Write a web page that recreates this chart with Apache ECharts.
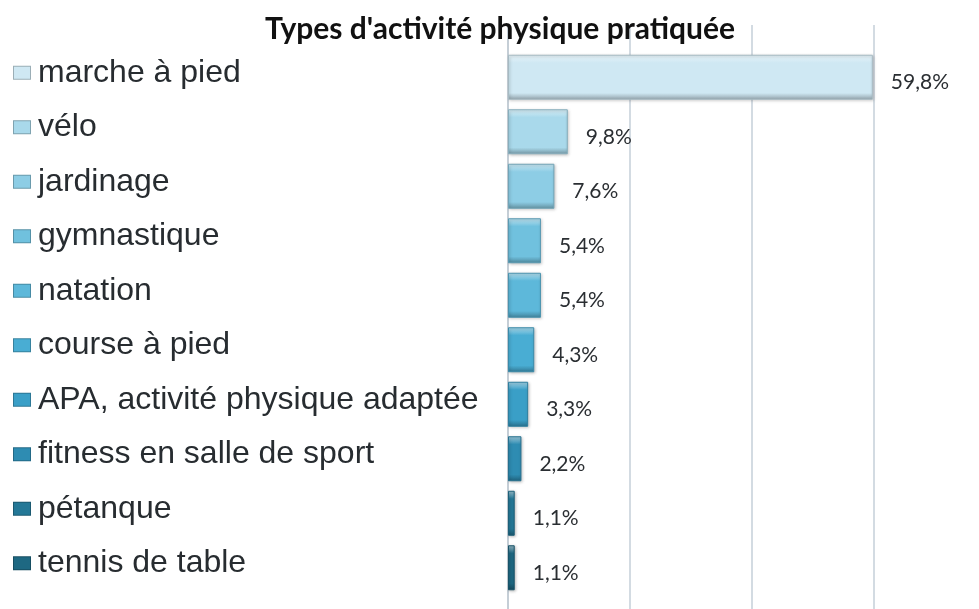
<!DOCTYPE html>
<html lang="fr">
<head>
<meta charset="UTF-8">
<title>Types d'activité physique pratiquée</title>
<script src="https://cdn.jsdelivr.net/npm/echarts@6/dist/echarts.min.js"></script>
<style>
  html, body { margin: 0; padding: 0; background: #fff; }
  #chart { width: 979px; height: 609px; }
</style>
</head>
<body>
<div id="chart"></div>
<script>
// data
const activities = ['marche à pied', 'vélo', 'jardinage', 'gymnastique', 'natation',
  'course à pied', 'APA, activité physique adaptée', 'fitness en salle de sport',
  'pétanque', 'tennis de table'];
const percents = [59.8, 9.8, 7.6, 5.4, 5.4, 4.3, 3.3, 2.2, 1.1, 1.1];
const labels = ['59,8%', '9,8%', '7,6%', '5,4%', '5,4%', '4,3%', '3,3%', '2,2%', '1,1%', '1,1%'];
const barColors = ['#cfe8f3', '#a9d9eb', '#8dcde5', '#70c1de', '#5db8da',
  '#49add3', '#3a9fc7', '#2e8cb2', '#247897', '#1e6882'];
const axisMax = 77.2; // the plot is cut at the right edge of the picture

let chart = echarts.init(document.getElementById('chart'));

function shade(hex, amt) {
  let n = parseInt(hex.slice(1), 16);
  let r = (n >> 16) & 255, g = (n >> 8) & 255, b = n & 255;
  let f = c => Math.max(0, Math.min(255, Math.round(amt > 0 ? c + (255 - c) * amt : c * (1 + amt))));
  return 'rgb(' + f(r) + ',' + f(g) + ',' + f(b) + ')';
}

let rich = { t: { fontFamily: 'Liberation Sans', fontSize: 32, color: '#272c30', padding: [0, 0, 0, 8] } };
barColors.forEach((c, i) => {
  rich['m' + i] = {
    width: 16, height: 12,
    backgroundColor: c,
    borderColor: shade(c, -0.25), borderWidth: 1,
    padding: [0, 0, 0, 0]
  };
});

let barData = percents.map((v, i) => ({
  value: v,
  itemStyle: {
    color: new echarts.graphic.LinearGradient(0, 0, 0, 1, [
      { offset: 0, color: shade(barColors[i], 0.55) },
      { offset: 0.18, color: barColors[i] },
      { offset: 0.85, color: barColors[i] },
      { offset: 1, color: shade(barColors[i], -0.3) }
    ]),
    borderColor: shade(barColors[i], -0.2),
    borderWidth: 1,
    shadowColor: 'rgba(0,0,0,0.25)',
    shadowBlur: 3,
    shadowOffsetX: 1,
    shadowOffsetY: 1
  }
}));

let option = {
  backgroundColor: '#fff',
  animation: false,
  title: {
    text: "Types d'activité physique pratiquée",
    left: 495, top: 9, textAlign: 'center',
    textStyle: { fontFamily: 'Lato', fontWeight: 'bold', fontSize: 30, color: '#111' }
  },
  grid: [
    { left: 508, top: 25, right: 0, bottom: 0 },
    { left: 508, top: 50, right: 0, height: 545 }
  ],
  xAxis: [
    {
      gridIndex: 0, type: 'value', min: 0, max: axisMax, interval: 20,
      axisLine: { show: false }, axisTick: { show: false }, axisLabel: { show: false },
      splitLine: { show: true, showMaxLine: false, lineStyle: { color: '#d3dbe2', width: 2 } }
    },
    {
      gridIndex: 1, type: 'value', min: 0, max: axisMax, interval: 20,
      axisLine: { show: false }, axisTick: { show: false }, axisLabel: { show: false },
      splitLine: { show: false }
    }
  ],
  yAxis: [
    {
      gridIndex: 0, type: 'value', min: 0, max: 1,
      axisLine: { show: true, lineStyle: { color: '#c5ced6', width: 2 } },
      axisTick: { show: false }, axisLabel: { show: false }, splitLine: { show: false }
    },
    {
      gridIndex: 1, type: 'category', data: activities, inverse: true,
      axisLine: { show: false }, axisTick: { show: false },
      axisLabel: {
        align: 'left', margin: 494, verticalAlign: 'middle',
        padding: [0, 0, 9, 0],
        formatter: (val, i) => '{m' + i + '|}{t|' + val + '}',
        rich: rich
      }
    }
  ],
  series: [{
    type: 'bar',
    xAxisIndex: 1, yAxisIndex: 1,
    barWidth: 45,
    data: barData,
    label: {
      show: true, position: 'right', distance: 18, offset: [0, 5],
      formatter: p => labels[p.dataIndex],
      fontFamily: 'Lato', fontSize: 21, color: '#2a2e32'
    }
  }]
};

chart.setOption(option);
</script>
</body>
</html>
